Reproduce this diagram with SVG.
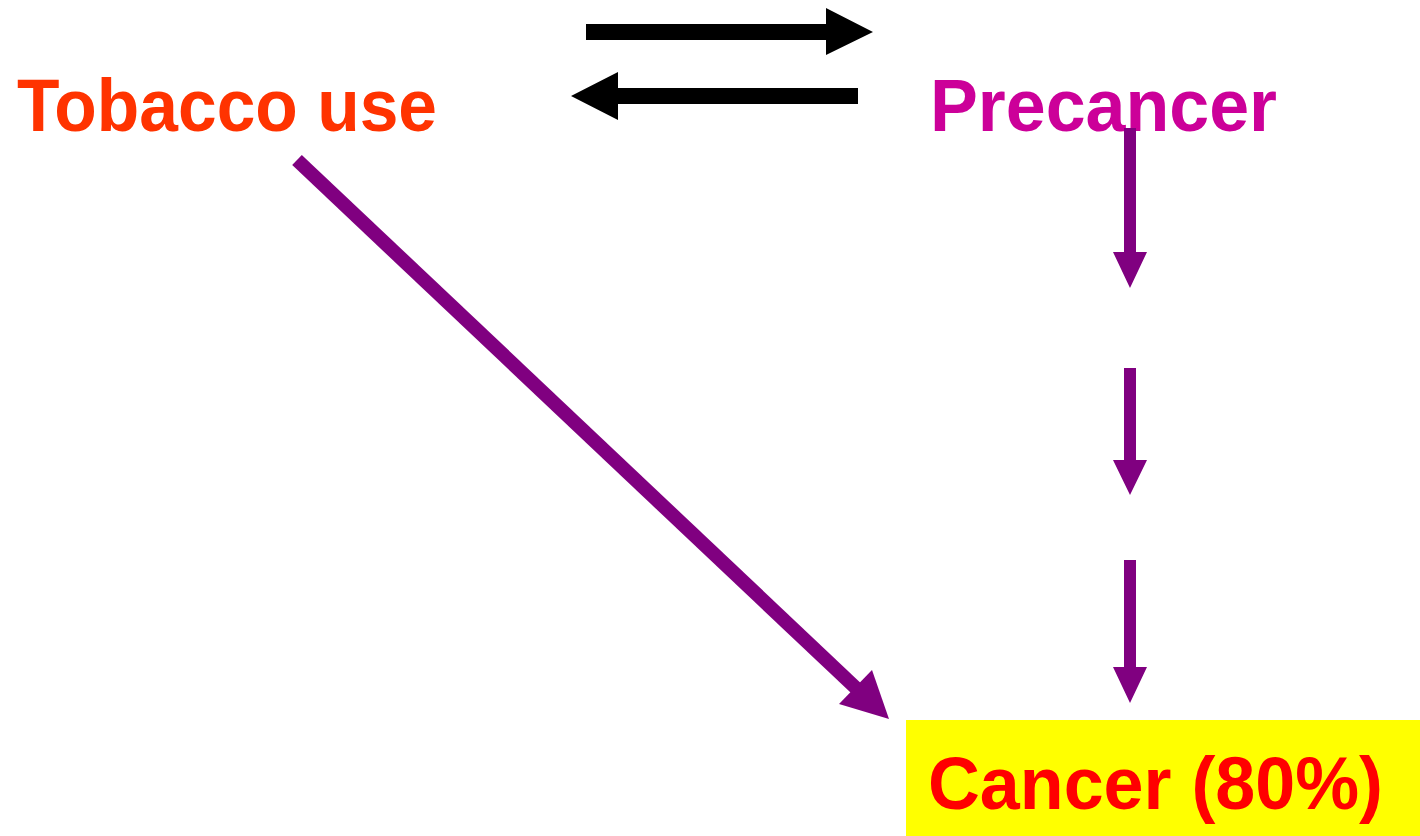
<svg xmlns="http://www.w3.org/2000/svg" width="1420" height="836" viewBox="0 0 1420 836">
<style>
.lbl{font-family:"Liberation Sans",Arial,sans-serif;font-weight:bold;font-size:74px}
.blk{fill:#000000}
.pur{fill:#800080}
</style>
<rect width="1420" height="836" fill="#ffffff"/>
<g id="tobacco">
<text class="lbl" x="17" y="131" fill="#FF3300" textLength="420" lengthAdjust="spacingAndGlyphs">Tobacco use</text>
</g>
<g id="precancer">
<text class="lbl" x="930" y="131" fill="#CC0099" textLength="347" lengthAdjust="spacingAndGlyphs">Precancer</text>
</g>
<g id="cancer">
<rect x="906" y="720" width="514" height="116" fill="#FFFF00"/>
<text class="lbl" x="928" y="809" fill="#FF0000" textLength="455" lengthAdjust="spacingAndGlyphs">Cancer (80%)</text>
</g>
<g id="connectors">
<polygon class="blk" points="586,24 826,24 826,8 873,32 826,55 826,40 586,40"/>
<polygon class="blk" points="858,88 618,88 618,72 571,96 618,120 618,104 858,104"/>
<line x1="297" y1="160" x2="858" y2="690" stroke="#800080" stroke-width="14"/>
<polygon class="pur" points="872,670 889,719 839,704"/>
<polygon class="pur" points="1124,128 1136,128 1136,252 1147,252 1130,288 1113,252 1124,252"/>
<polygon class="pur" points="1124,368 1136,368 1136,460 1147,460 1130,495 1113,460 1124,460"/>
<polygon class="pur" points="1124,560 1136,560 1136,667 1147,667 1130,703 1113,667 1124,667"/>
</g>
</svg>
